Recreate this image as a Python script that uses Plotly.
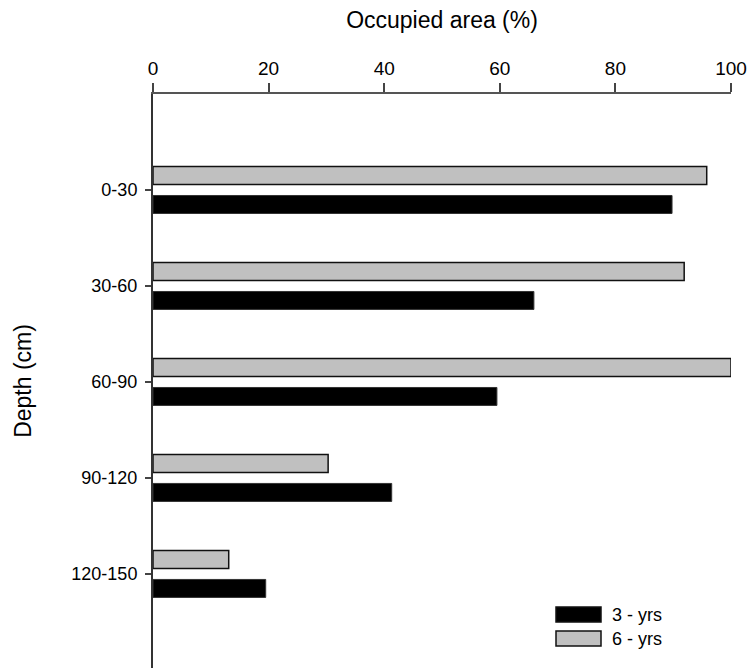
import plotly.graph_objects as go

depths = ["0-30", "30-60", "60-90", "90-120", "120-150"]
yrs3 = [89.8, 65.9, 59.5, 41.3, 19.5]
yrs6 = [95.8, 91.9, 100.0, 30.3, 13.1]
legend_names = ["3 - yrs", "6 - yrs"]
colors = ["#000000", "#C0C0C0"]

FONT = "Liberation Sans, Arial, sans-serif"

fig = go.Figure()
fig.add_trace(go.Bar(
    y=depths, x=yrs6, orientation="h", name=legend_names[1],
    marker=dict(color=colors[1], line=dict(color="#111111", width=1.5)),
    showlegend=False,
))
fig.add_trace(go.Bar(
    y=depths, x=yrs3, orientation="h", name=legend_names[0],
    marker=dict(color=colors[0], line=dict(color="#333333", width=1)),
    showlegend=False,
))

# custom legend (wide swatches like the original)
L, R, T, H, W = 153, 16, 94, 668, 747
pw, ph = W - L - R, H - T
def px(x):
    return (x - L) / pw
def py(y):
    return (H - y) / ph

shapes = []
annotations = []
for i, (nm, col) in enumerate(zip(legend_names, colors)):
    top = 607 + 24 * i
    shapes.append(dict(type="rect", xref="paper", yref="paper",
                       x0=px(556), x1=px(601), y0=py(top + 15), y1=py(top),
                       fillcolor=col, line=dict(color="#111111", width=1.5)))
    annotations.append(dict(xref="paper", yref="paper", x=px(610), y=py(top + 7.5),
                            xanchor="left", yanchor="middle", showarrow=False,
                            text=nm, font=dict(size=18, color="#000000")))

fig.update_layout(
    width=W, height=H,
    margin=dict(l=L, r=R, t=T, b=0),
    paper_bgcolor="white", plot_bgcolor="white",
    font=dict(family=FONT, size=19, color="#000000"),
    barmode="group", bargap=0.396, bargroupgap=0.38,
    showlegend=False,
    shapes=shapes,
    annotations=annotations,
    xaxis=dict(
        side="top", range=[0, 100], tickvals=[0, 20, 40, 60, 80, 100],
        showgrid=False, zeroline=False, showline=True, linecolor="#555555", linewidth=2,
        ticks="outside", ticklen=9, tickcolor="#444444", tickwidth=1.5,
        title=dict(text="Occupied area (%)", font=dict(size=23), standoff=23),
        tickfont=dict(size=19),
    ),
    yaxis=dict(
        type="category", categoryarray=depths,
        range=[4.98, -1.0],
        showgrid=False, zeroline=False, showline=True, linecolor="#333333", linewidth=2,
        ticks="outside", ticklen=6, tickcolor="#444444", tickwidth=1.5,
        ticklabelstandoff=4,
        title=dict(text="Depth (cm)", font=dict(size=23), standoff=33),
        tickfont=dict(size=18),
    ),
)

fig.write_html("out.html")
